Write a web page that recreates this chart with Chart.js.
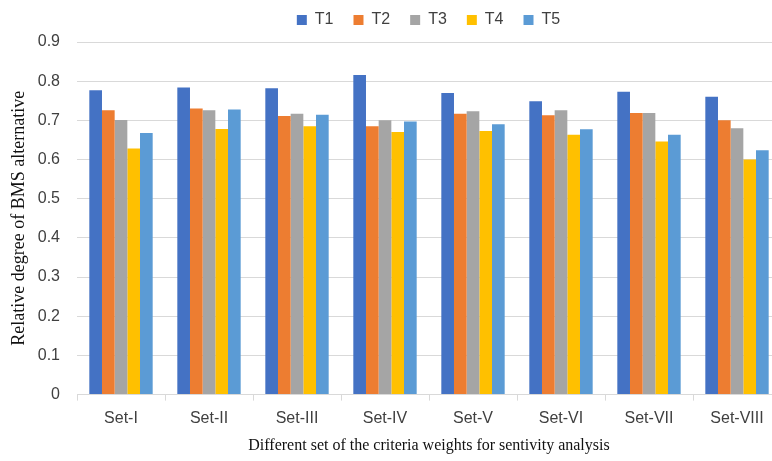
<!DOCTYPE html>
<html><head><meta charset="utf-8">
<script src="https://cdn.jsdelivr.net/npm/chart.js@4"></script>
<style>html,body{margin:0;padding:0;overflow:hidden;background:#fff;width:772px;height:461px}#wrap{width:784px;height:461px;position:relative}</style>
</head><body><div id="wrap"><canvas id="c"></canvas></div>
<script>
const categories = ["Set-I","Set-II","Set-III","Set-IV","Set-V","Set-VI","Set-VII","Set-VIII"];
const seriesNames = ["T1","T2","T3","T4","T5"];
const T1 = [0.777,0.784,0.782,0.816,0.770,0.749,0.773,0.760];
const T2 = [0.726,0.730,0.711,0.685,0.717,0.713,0.719,0.700];
const T3 = [0.701,0.726,0.717,0.700,0.723,0.726,0.719,0.680];
const T4 = [0.628,0.678,0.685,0.670,0.673,0.663,0.646,0.600];
const T5 = [0.668,0.728,0.714,0.697,0.690,0.677,0.663,0.624];
const yTicks = [0,0.1,0.2,0.3,0.4,0.5,0.6,0.7,0.8,0.9];
const colors = ["#4472C4","#ED7D31","#A5A5A5","#FFC000","#5B9BD5"];
const values = [T1,T2,T3,T4,T5];
const sansFont = "'Liberation Sans',sans-serif";
const serifFont = "'Liberation Serif','Times New Roman',serif";

const legendTweak = {
  id:'legendTweak',
  beforeUpdate(chart){
    const lg = chart.legend;
    if(lg && !lg._wrapped){
      const f = lg.fit;
      lg.fit = function(){ f.call(this); this.height = 42; };
      lg._wrapped = true;
    }
  },
  afterLayout(chart){
    const lg = chart.legend;
    if(lg){ lg.left += 38; lg.right += 38; lg.top -= 8; lg.bottom -= 8; }
  }
};

new Chart(document.getElementById('c'), {
  type:'bar',
  data:{
    labels:categories,
    datasets:seriesNames.map((n,i)=>({label:n,data:values[i],backgroundColor:colors[i],borderWidth:0,categoryPercentage:0.72,barPercentage:1.0}))
  },
  options:{
    responsive:true, maintainAspectRatio:false, animation:false,
    layout:{padding:{left:0,right:3,top:0,bottom:0}},
    plugins:{
      legend:{position:'top',labels:{boxWidth:10,boxHeight:10,padding:20,color:'#404040',font:{family:sansFont,size:16}}},
      tooltip:{enabled:false}
    },
    scales:{
      x:{
        grid:{display:true,drawOnChartArea:false,offset:true,color:'#d9d9d9',tickLength:6},
        border:{display:true,color:'#d9d9d9'},
        ticks:{color:'#404040',font:{family:sansFont,size:16},padding:8,maxRotation:0},
        title:{display:true,text:'Different set of the criteria weights for sentivity analysis',color:'#111',font:{family:serifFont,size:16},padding:{top:0,bottom:6}}
      },
      y:{
        min:0,max:0.9,
        afterBuildTicks(s){ s.ticks = yTicks.map(v=>({value:v})); },
        afterFit(s){ s.width = 77; },
        grid:{color:'#d9d9d9',drawTicks:false},
        border:{display:false},
        ticks:{color:'#404040',font:{family:sansFont,size:16},padding:17,callback:v=>v===0?'0':v.toFixed(1)},
        title:{display:true,text:'Relative degree of BMS alternative',color:'#111',font:{family:serifFont,size:18},padding:{top:8,bottom:4}}
      }
    }
  },
  plugins:[legendTweak]
});
</script></body></html>
